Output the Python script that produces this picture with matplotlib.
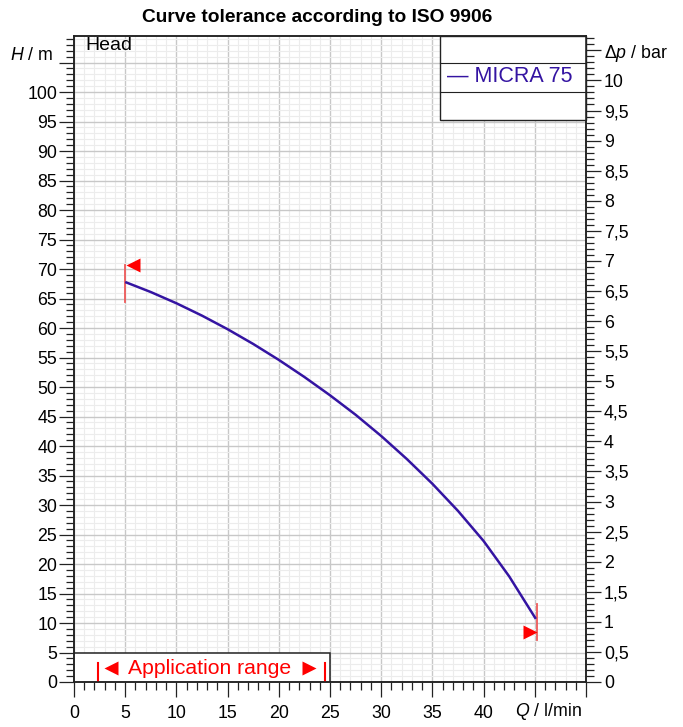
import matplotlib
matplotlib.use("Agg")
import matplotlib.pyplot as plt
from matplotlib.ticker import MultipleLocator, FuncFormatter
from matplotlib.patches import Rectangle

plt.rcParams["font.family"] = ["Liberation Sans", "DejaVu Sans"]
plt.rcParams["mathtext.fontset"] = "custom"
plt.rcParams["mathtext.rm"] = "Liberation Sans"
plt.rcParams["mathtext.it"] = "Liberation Sans:italic"

# pump curve MICRA 75
flow = [5, 7.5, 10, 12.5, 15, 17.5, 20, 22.5, 25, 27.5, 30, 32.5, 35, 37.5, 40, 42.5, 45.1]
head = [67.8, 66.1, 64.2, 62.1, 59.8, 57.3, 54.6, 51.7, 48.6, 45.3, 41.7, 37.8, 33.6, 29.0, 23.9, 17.9, 10.7]

# tolerance markers at both ends of the curve
tol_start_q = 5
tol_start_h = [64.4, 70.7]
tol_end_q = 45.25
tol_end_h = [7.1, 13.2]
flag_start = (5.77, 70.6)
flag_end = (44.55, 8.45)

app_range = [2.3, 24.5]
app_box = (25, 5)

series_name = "MICRA 75"
title = "Curve tolerance according to ISO 9906"

Q_MAX = 50
H_MAX = 109.5
M_PER_BAR = 10.197

curve_col = "#3414a2"
red = "#ff0000"
tol_col = "#ee5a5a"
spine_col = "#222222"
TICK_FS = 12.8

fig = plt.figure(figsize=(6.83, 7.27), dpi=100)
ax = fig.add_axes([74 / 683, 1 - 682 / 727, 512 / 683, 646 / 727])
ax2 = ax.twinx()

ax.set_xlim(0, Q_MAX)
ax.set_ylim(0, H_MAX)
ax2.set_ylim(0, H_MAX / M_PER_BAR)

ax.xaxis.set_major_locator(MultipleLocator(5))
ax.xaxis.set_minor_locator(MultipleLocator(1))
ax.yaxis.set_major_locator(MultipleLocator(5))
ax.yaxis.set_minor_locator(MultipleLocator(1))
ax2.yaxis.set_major_locator(MultipleLocator(0.5))
ax2.yaxis.set_minor_locator(MultipleLocator(0.1))

ax.xaxis.set_major_formatter(FuncFormatter(lambda v, p: "" if v > 42 else f"{v:g}"))
ax.yaxis.set_major_formatter(FuncFormatter(lambda v, p: "" if v > 102 else f"{v:g}"))
ax2.yaxis.set_major_formatter(FuncFormatter(
    lambda v, p: "Δ$p$ / bar" if abs(v - 10.5) < 1e-6 else f"{v:g}".replace(".", ",")))

ax.grid(which="major", color="#c8c8c8", lw=1.0)
ax.grid(which="minor", color="#ececec", lw=0.8)
ax.set_axisbelow(True)

for a in (ax, ax2):
    for s in a.spines.values():
        s.set_color(spine_col)
        s.set_linewidth(1.1)
ax.tick_params(which="both", direction="out", width=0.9, color=spine_col, labelsize=TICK_FS,
               top=False, right=False)
ax.tick_params(which="major", length=10.5)
ax.tick_params(which="minor", length=5.8)
ax.tick_params(axis="y", pad=1.5)
ax.tick_params(axis="x", pad=6)
ax2.tick_params(which="both", direction="out", width=0.9, color=spine_col,
                labelsize=TICK_FS, pad=2.5)
ax2.tick_params(which="major", length=10.5)
ax2.tick_params(which="minor", length=5.8)

# curve
ax.plot(flow, head, color=curve_col, lw=1.8, zorder=4, solid_capstyle="butt")

# tolerance flags
ax.plot([tol_start_q, tol_start_q], tol_start_h, color=tol_col, lw=1.3, zorder=3)
ax.plot([tol_end_q, tol_end_q], tol_end_h, color=tol_col, lw=1.3, zorder=3)
ax.plot(*flag_start, marker="<", ms=10.5, color=red, mec="none", zorder=5)
ax.plot(*flag_end, marker=">", ms=10.5, color=red, mec="none", zorder=5)

# application range box
ax.add_patch(Rectangle((0, 0), app_box[0], app_box[1], facecolor="white",
                       edgecolor=spine_col, lw=1.1, zorder=3))
for q in app_range:
    ax.plot([q, q], [0, 3.3], color=red, lw=1.5, zorder=4)
ax.plot(app_range[0] + 1.3, 2.45, marker="<", ms=10, color=red, mec="none", zorder=5)
ax.plot(app_range[1] - 1.55, 2.45, marker=">", ms=10, color=red, mec="none", zorder=5)
ax.text(13.25, 2.3, "Application range", color=red, fontsize=15.2,
        ha="center", va="center", zorder=5)

# legend box
lx0 = 366 / 512
ax.add_patch(Rectangle((lx0, 1 - 84 / 646), 1 - lx0, 84 / 646, transform=ax.transAxes,
                       facecolor="white", edgecolor=spine_col, lw=1.0, zorder=6, clip_on=False))
for yy in (1 - 27 / 646, 1 - 56 / 646):
    ax.plot([lx0, 1], [yy, yy], transform=ax.transAxes, color=spine_col, lw=0.8,
            zorder=7, clip_on=False)
ax.text(lx0 + 7 / 512, 1 - 41 / 646, "— " + series_name, transform=ax.transAxes,
        color=curve_col, fontsize=15.5, ha="left", va="center", zorder=8)

ax.text(11 / 512, 1 - 10 / 646, "Head", transform=ax.transAxes, fontsize=14,
        ha="left", va="center")
ax.annotate("$H$ / m", xy=(0, 105), xycoords=("axes fraction", "data"),
            xytext=(-15, 5), textcoords="offset points", fontsize=12.8, ha="right", va="center")
ax.annotate("$Q$ / l/min", xy=(43.1, 0), xycoords="data",
            xytext=(0, -21.5), textcoords="offset points", fontsize=12.8, ha="left",
            va="center", annotation_clip=False)

fig.text(317 / 683, 1 - 18 / 727, title, fontsize=13.8, fontweight="bold",
         ha="center", va="center")

fig.savefig("out.png", dpi=100)
